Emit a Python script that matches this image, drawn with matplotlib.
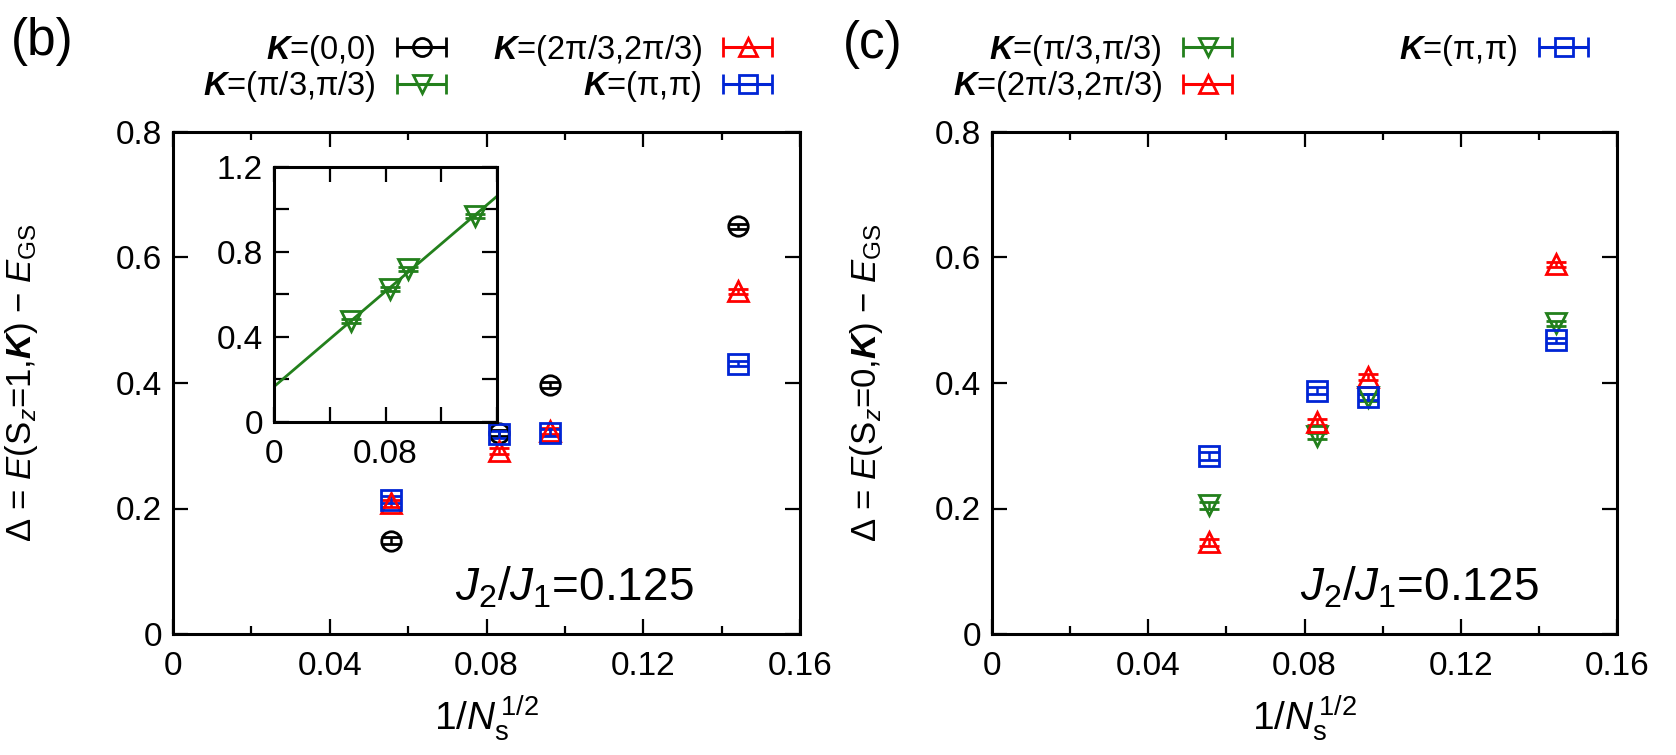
import numpy as np
import matplotlib
matplotlib.use("Agg")
import matplotlib.pyplot as plt
from matplotlib.container import ErrorbarContainer
from matplotlib.legend_handler import HandlerErrorbar

fam = ['Liberation Sans', 'DejaVu Sans']
plt.rcParams['font.family'] = fam
plt.rcParams['mathtext.fontset'] = 'custom'
plt.rcParams['mathtext.rm'] = 'Liberation Sans'
plt.rcParams['mathtext.it'] = 'Liberation Sans:italic'
plt.rcParams['mathtext.bf'] = 'Liberation Sans:bold'
plt.rcParams['mathtext.bfit'] = 'Liberation Sans:italic:bold'

# 1/sqrt(Ns) for Ns = 324, 144, 108, 48
inv_sqrt_n = [0.0556, 0.0833, 0.0962, 0.1443]

# panel (b): S_z = 1
b_k00 = [0.149, 0.320, 0.397, 0.650]
b_k2pi3 = [0.208, 0.292, 0.324, 0.546]
b_kpipi = [0.214, 0.318, 0.321, 0.431]
b_err = [0.006, 0.005, 0.005, 0.004]

# inset: K=(pi/3,pi/3), S_z = 1
inset_kpi3 = [0.475, 0.625, 0.72, 0.97]
inset_err = [0.008, 0.008, 0.008, 0.008]

# panel (c): S_z = 0
c_kpi3 = [0.205, 0.315, 0.377, 0.495]
c_k2pi3 = [0.146, 0.338, 0.410, 0.589]
c_kpipi = [0.284, 0.388, 0.378, 0.468]
c_err = [0.006, 0.005, 0.005, 0.004]

lab_k00 = r'$\boldsymbol{K}$=(0,0)'
lab_kpi3 = r'$\boldsymbol{K}$=(π/3,π/3)'
lab_k2pi3 = r'$\boldsymbol{K}$=(2π/3,2π/3)'
lab_kpipi = r'$\boldsymbol{K}$=(π,π)'

black = '#000000'
green = '#23801c'
red = '#ff0000'
blue = '#0025d5'

W, H = 1676, 755
fig = plt.figure(figsize=(W / 100, H / 100), dpi=100)

ms = 14
mew = 2.0
cap = 7
tick_fs = 24
leg_fs = 23.5


def pts(ax, y, err, marker, color):
    ax.errorbar(inv_sqrt_n, y, yerr=err, fmt=marker, ms=ms, mfc='none', mec=color,
                mew=mew, ecolor=color, elinewidth=1.8, capsize=cap, capthick=1.8)


def proxy(ax, marker, color):
    return ax.errorbar([np.nan], [np.nan], xerr=[0.0], fmt=marker, ms=13, mfc='none',
                       mec=color, mew=mew, ecolor=color, elinewidth=2.2, capsize=cap,
                       capthick=2.2)


def style(ax):
    ax.set_xlim(0, 0.16)
    ax.set_ylim(0, 0.8)
    ax.set_xticks(np.arange(0, 0.161, 0.04))
    ax.set_xticklabels(['0', '0.04', '0.08', '0.12', '0.16'])
    ax.set_xticks(np.arange(0.02, 0.16, 0.04), minor=True)
    ax.set_yticks(np.arange(0, 0.81, 0.2))
    ax.set_yticklabels(['0', '0.2', '0.4', '0.6', '0.8'])
    ax.tick_params(which='both', direction='in', top=True, right=True, width=1.6,
                   labelsize=tick_fs)
    ax.tick_params(which='major', length=11)
    ax.tick_params(which='minor', length=6)
    ax.tick_params(axis='x', pad=12)
    ax.tick_params(axis='y', pad=8)
    for s in ax.spines.values():
        s.set_linewidth(2.2)
    ax.set_xlabel(r'1/$N_{\rm s}^{\,1/2}$', fontsize=28)
    ax.xaxis.set_label_coords(0.5, -0.118)


def add_leg(ax, h, lab, xr, yc):
    fig.legend([h], [lab], loc='center right', bbox_to_anchor=(xr / W, 1 - yc / H),
               frameon=False, markerfirst=False, fontsize=leg_fs, handlelength=1.5,
               handletextpad=0.65, borderpad=0, borderaxespad=0,
               handler_map={ErrorbarContainer: HandlerErrorbar(xerr_size=0.75)})


# ---- panel (b)
axb = fig.add_axes([173 / W, 1 - 634 / H, 627 / W, 502 / H])
pts(axb, b_k00, b_err, 'o', black)
pts(axb, b_k2pi3, b_err, '^', red)
pts(axb, b_kpipi, b_err, 's', blue)
style(axb)
axb.set_ylabel(r'$\Delta$ = $E$(S$_z$=1,$\boldsymbol{K}$) $-$ $E_{\rm GS}$', fontsize=25)
axb.yaxis.set_label_coords(-0.212, 0.5)
axb.text(0.83, 0.066, r'$J_2$/$J_1$=0.125', transform=axb.transAxes, ha='right',
         va='baseline', fontsize=33)

add_leg(axb, proxy(axb, 'o', black), lab_k00, 446, 50)
add_leg(axb, proxy(axb, '^', red), lab_k2pi3, 772, 50)
add_leg(axb, proxy(axb, 'v', green), lab_kpi3, 446, 87)
add_leg(axb, proxy(axb, 's', blue), lab_kpipi, 772, 87)

# inset
axi = fig.add_axes([274 / W, 1 - 422 / H, 223 / W, 255 / H])
axi.errorbar(inv_sqrt_n, inset_kpi3, yerr=inset_err, fmt='v', ms=ms, mfc='none',
             mec=green, mew=mew, ecolor=green, elinewidth=1.8, capsize=cap, capthick=1.8)
coef = np.polyfit(inv_sqrt_n, inset_kpi3, 1)
xf = np.array([0.0, 0.16])
axi.plot(xf, np.polyval(coef, xf), color=green, lw=2)
axi.set_xlim(0, 0.16)
axi.set_ylim(0, 1.2)
axi.set_xticks(np.arange(0, 0.161, 0.04))
axi.set_xticklabels(['0', '', '0.08', '', ''])
axi.set_yticks(np.arange(0, 1.21, 0.2))
axi.set_yticklabels(['0', '', '0.4', '', '0.8', '', '1.2'])
axi.tick_params(direction='in', top=True, right=True, length=11, width=1.6,
                labelsize=tick_fs)
axi.tick_params(axis='x', pad=12)
axi.tick_params(axis='y', pad=8)
for s in axi.spines.values():
    s.set_linewidth(2.2)

# ---- panel (c)
axc = fig.add_axes([992 / W, 1 - 634 / H, 625 / W, 502 / H])
pts(axc, c_kpi3, c_err, 'v', green)
pts(axc, c_k2pi3, c_err, '^', red)
pts(axc, c_kpipi, c_err, 's', blue)
style(axc)
axc.set_ylabel(r'$\Delta$ = $E$(S$_z$=0,$\boldsymbol{K}$) $-$ $E_{\rm GS}$', fontsize=25)
axc.yaxis.set_label_coords(-0.172, 0.5)
axc.text(0.875, 0.066, r'$J_2$/$J_1$=0.125', transform=axc.transAxes, ha='right',
         va='baseline', fontsize=33)

add_leg(axc, proxy(axc, 'v', green), lab_kpi3, 1232, 50)
add_leg(axc, proxy(axc, 's', blue), lab_kpipi, 1588, 50)
add_leg(axc, proxy(axc, '^', red), lab_k2pi3, 1232, 87)

fig.text(11 / W, 1 - 17 / H, '(b)', fontsize=37, va='top', ha='left')
fig.text(843 / W, 1 - 20 / H, '(c)', fontsize=37, va='top', ha='left')

fig.savefig('out.png', dpi=100)
